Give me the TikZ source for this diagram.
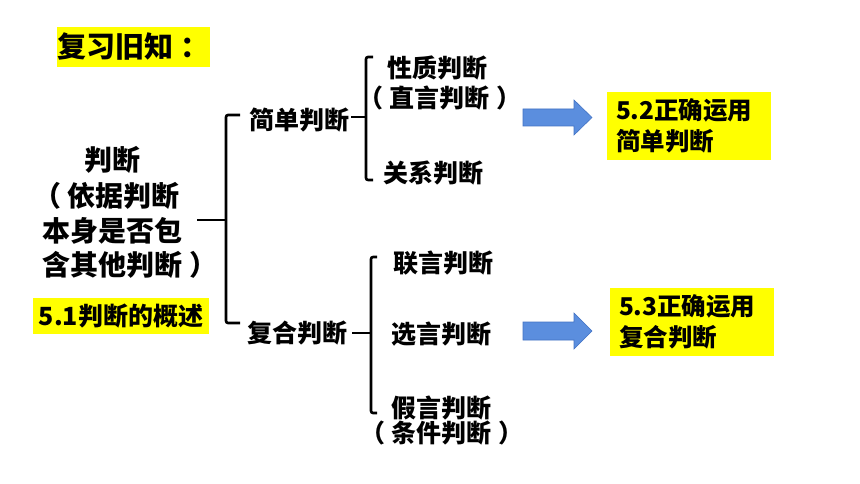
\documentclass[tikz,border=0pt]{standalone}
\usepackage{fontspec}
\setmainfont{Noto Sans CJK SC}
\definecolor{hl}{RGB}{255,255,0}
\definecolor{arrfill}{RGB}{91,142,222}
\definecolor{arrline}{RGB}{66,114,196}
\newcommand{\lp}{（\hspace{6pt}}
\newcommand{\rp}{\hspace{7pt}）}
\begin{document}
\begin{tikzpicture}[x=1pt,y=-1pt,
  t/.style={font=\fontsize{25}{30}\selectfont\bfseries, inner sep=0pt},
  tl/.style={font=\fontsize{28}{35}\selectfont\bfseries, inner sep=0pt},
  hlbox/.style={fill=hl, inner sep=0pt},
  hltext/.style={hlbox, text width=146pt, inner xsep=9pt, minimum height=68pt, align=left, font=\fontsize{24.5}{31}\selectfont\bfseries},
  br/.style={line width=2.6pt, line join=round, rounded corners=2pt},
  bigarrow/.style={fill=arrfill, draw=arrline, line width=0.6pt}]
\useasboundingbox[fill=white] (0,0) rectangle (860,484);

% title
\node[hlbox, minimum width=153pt, minimum height=40pt, font=\fontsize{29}{30}\selectfont\bfseries] (review) at (133.5,47) {复习旧知\hspace{7pt}：\hspace{-9pt}};

% root text
\node[tl] (r1) at (112,160) {判断};
\node[tl, anchor=west] (r2) at (33,196) {\lp 依据判断};
\node[tl, anchor=west] (r3) at (42,231) {本身是否包};
\node[tl, anchor=west] (r4) at (42,265) {含其他判断\rp};
\node[hlbox, minimum width=176pt, minimum height=36pt, font=\fontsize{25}{28}\selectfont\bfseries] (s51) at (121,316) {5.1判断的概述};

% level 1
\node[t] (jd) at (299,120) {简单判断};
\node[t] (fh) at (297,333) {复合判断};

% level 2
\node[t] (xz) at (437,68) {性质判断};
\node[t] (zy) at (440,98) {\lp 直言判断\rp};
\node[t] (gx) at (433,173) {关系判断};
\node[t] (ly) at (443,263) {联言判断};
\node[t] (xy) at (441,334) {选言判断};
\node[t] (jy) at (441,408) {假言判断};
\node[t] (tj) at (442,433) {\lp 条件判断\rp};

% brackets
\coordinate (rootend) at (197,220);
\coordinate (b1m) at (226,220);
\draw[br] (240,115) -- (226,115) -- (226,323) -- (240,323);
\draw[br] (rootend) -- (b1m);

\coordinate (jdend) at (351,117);
\coordinate (b2m) at (366,117);
\draw[br] (373,57) -- (366,57) -- (366,180) -- (373,180);
\draw[br] (jdend) -- (b2m);

\coordinate (fhend) at (352,333);
\coordinate (b3m) at (371,333);
\draw[br] (377,257) -- (371,257) -- (371,413) -- (377,413);
\draw[br] (fhend) -- (b3m);

% arrows
\path[bigarrow] (523,109) -- (574,109) -- (574,100) -- (592,117.5) -- (574,135) -- (574,126) -- (523,126) -- cycle;
\path[bigarrow] (523,322) -- (574,322) -- (574,313) -- (592,331) -- (574,349) -- (574,340) -- (523,340) -- cycle;

% target boxes
\node[hltext] (s52) at (689,126) {5.2正确运用\\简单判断};
\node[hltext] (s53) at (692,321.5) {5.3正确运用\\复合判断};
\end{tikzpicture}
\end{document}
